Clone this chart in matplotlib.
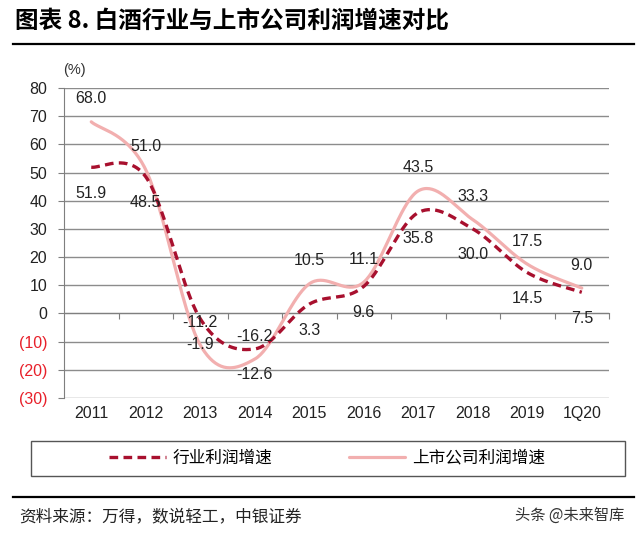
import matplotlib
matplotlib.use("Agg")
import matplotlib.pyplot as plt
from matplotlib.patches import Rectangle
import numpy as np

plt.rcParams['font.family'] = ['Liberation Sans', 'Noto Sans CJK SC', 'DejaVu Sans']

categories = ['2011', '2012', '2013', '2014', '2015', '2016', '2017', '2018', '2019', '1Q20']
industry = [51.9, 48.5, -1.9, -12.6, 3.3, 9.6, 35.8, 30.0, 14.5, 7.5]
listed = [68.0, 51.0, -11.2, -16.2, 10.5, 11.1, 43.5, 33.3, 17.5, 9.0]
yticks = [-30, -20, -10, 0, 10, 20, 30, 40, 50, 60, 70, 80]

DARK = '#A8102E'
PINK = '#F2AFAF'
CJK = ['Noto Sans CJK SC', 'DejaVu Sans']


def smooth(xs, ys, n=40):
    # Excel-style smoothed line: cubic Bezier segments through every point
    xs = np.asarray(xs, float)
    ys = np.asarray(ys, float)
    px = np.concatenate([[xs[0]], xs, [xs[-1]]])
    py = np.concatenate([[ys[0]], ys, [ys[-1]]])
    t = np.linspace(0, 1, n)[:, None]
    out = []
    for i in range(1, len(px) - 2):
        p0 = np.array([px[i], py[i]])
        p3 = np.array([px[i + 1], py[i + 1]])
        p1 = p0 + (np.array([px[i + 1], py[i + 1]]) - np.array([px[i - 1], py[i - 1]])) / 6
        p2 = p3 - (np.array([px[i + 2], py[i + 2]]) - np.array([px[i], py[i]])) / 6
        seg = ((1 - t) ** 3) * p0 + 3 * ((1 - t) ** 2) * t * p1 + 3 * (1 - t) * t ** 2 * p2 + t ** 3 * p3
        out.append(seg if i == 1 else seg[1:])
    seg = np.vstack(out)
    return seg[:, 0], seg[:, 1]


fig = plt.figure(figsize=(6.4, 5.34), dpi=100)
ax = fig.add_axes([0.1, 0.2547, 0.8516, 0.5805])

x = np.arange(len(categories))
sx, sy = smooth(x, listed)
ax.plot(sx, sy, color=PINK, lw=2.3, solid_capstyle='round', label='上市公司利润增速', zorder=3)
sx, sy = smooth(x, industry)
ax.plot(sx, sy, color=DARK, lw=2.4, linestyle=(0, (2.6, 1.6)), label='行业利润增速', zorder=4)

for i, v in enumerate(listed):
    ax.annotate(f'{v:.1f}', (i, v), xytext=(0, 23), textcoords='offset pixels',
                ha='center', va='center', fontsize=11.5, color='#222222', zorder=5)
for i, v in enumerate(industry):
    ax.annotate(f'{v:.1f}', (i, v), xytext=(0, -26), textcoords='offset pixels',
                ha='center', va='center', fontsize=11.5, color='#222222', zorder=5)

ax.set_xlim(-0.5, len(categories) - 0.5)
ax.set_ylim(-30, 80)
ax.set_yticks(yticks)
ax.set_yticklabels([f'({-v})' if v < 0 else str(v) for v in yticks], fontsize=11.5)
for lab, v in zip(ax.get_yticklabels(), yticks):
    lab.set_color('#E8202A' if v < 0 else '#222222')
ax.grid(axis='y', color='#8C8C8C', lw=1.0)
ax.set_axisbelow(True)

for s in ['top', 'right']:
    ax.spines[s].set_visible(False)
ax.spines['left'].set_color('#7F7F7F')
ax.spines['bottom'].set_color('#7F7F7F')
ax.spines['bottom'].set_position(('data', 0))
ax.set_xticks(np.arange(0.5, len(categories), 1.0))
ax.set_xticklabels([])
ax.tick_params(axis='x', direction='out', length=4, color='#7F7F7F')
ax.tick_params(axis='y', direction='out', length=4, color='#7F7F7F', pad=8)
for i, c in enumerate(categories):
    ax.text(i, -33, c, ha='center', va='top', fontsize=11.5, color='#222222')

fig.text(0.098, 0.868, '(%)', fontsize=10.5, color='#333333', ha='left', va='center')

# title and rules
fig.text(0.023, 0.962, '图表 8. 白酒行业与上市公司利润增速对比', fontsize=17, fontweight='bold',
         family=CJK, ha='left', va='center')
fig.add_artist(plt.Line2D([0.02, 0.99], [0.918, 0.918], color='black', lw=1.6))
fig.add_artist(plt.Line2D([0.02, 0.99], [0.07, 0.07], color='black', lw=1.6))

# legend: frameless entries inside a wide drawn box
fig.add_artist(Rectangle((0.048, 0.109), 0.929, 0.066, transform=fig.transFigure,
                         fill=False, edgecolor='#555555', lw=1.0))
h, l = ax.get_legend_handles_labels()
fig.legend(h[::-1], l[::-1], loc='center', bbox_to_anchor=(0.511, 0.142), ncol=2,
           prop={'family': CJK, 'size': 12}, frameon=False,
           handlelength=3.4, handletextpad=0.4, columnspacing=4.6)

fig.text(0.03, 0.032, '资料来源：万得，数说轻工，中银证券', fontsize=12, family=CJK,
         style='italic', ha='left', va='center', color='#222222')
fig.text(0.975, 0.035, '头条 @未来智库', fontsize=11, family=CJK,
         ha='right', va='center', color='#333333')

fig.savefig('out.png', dpi=100)
